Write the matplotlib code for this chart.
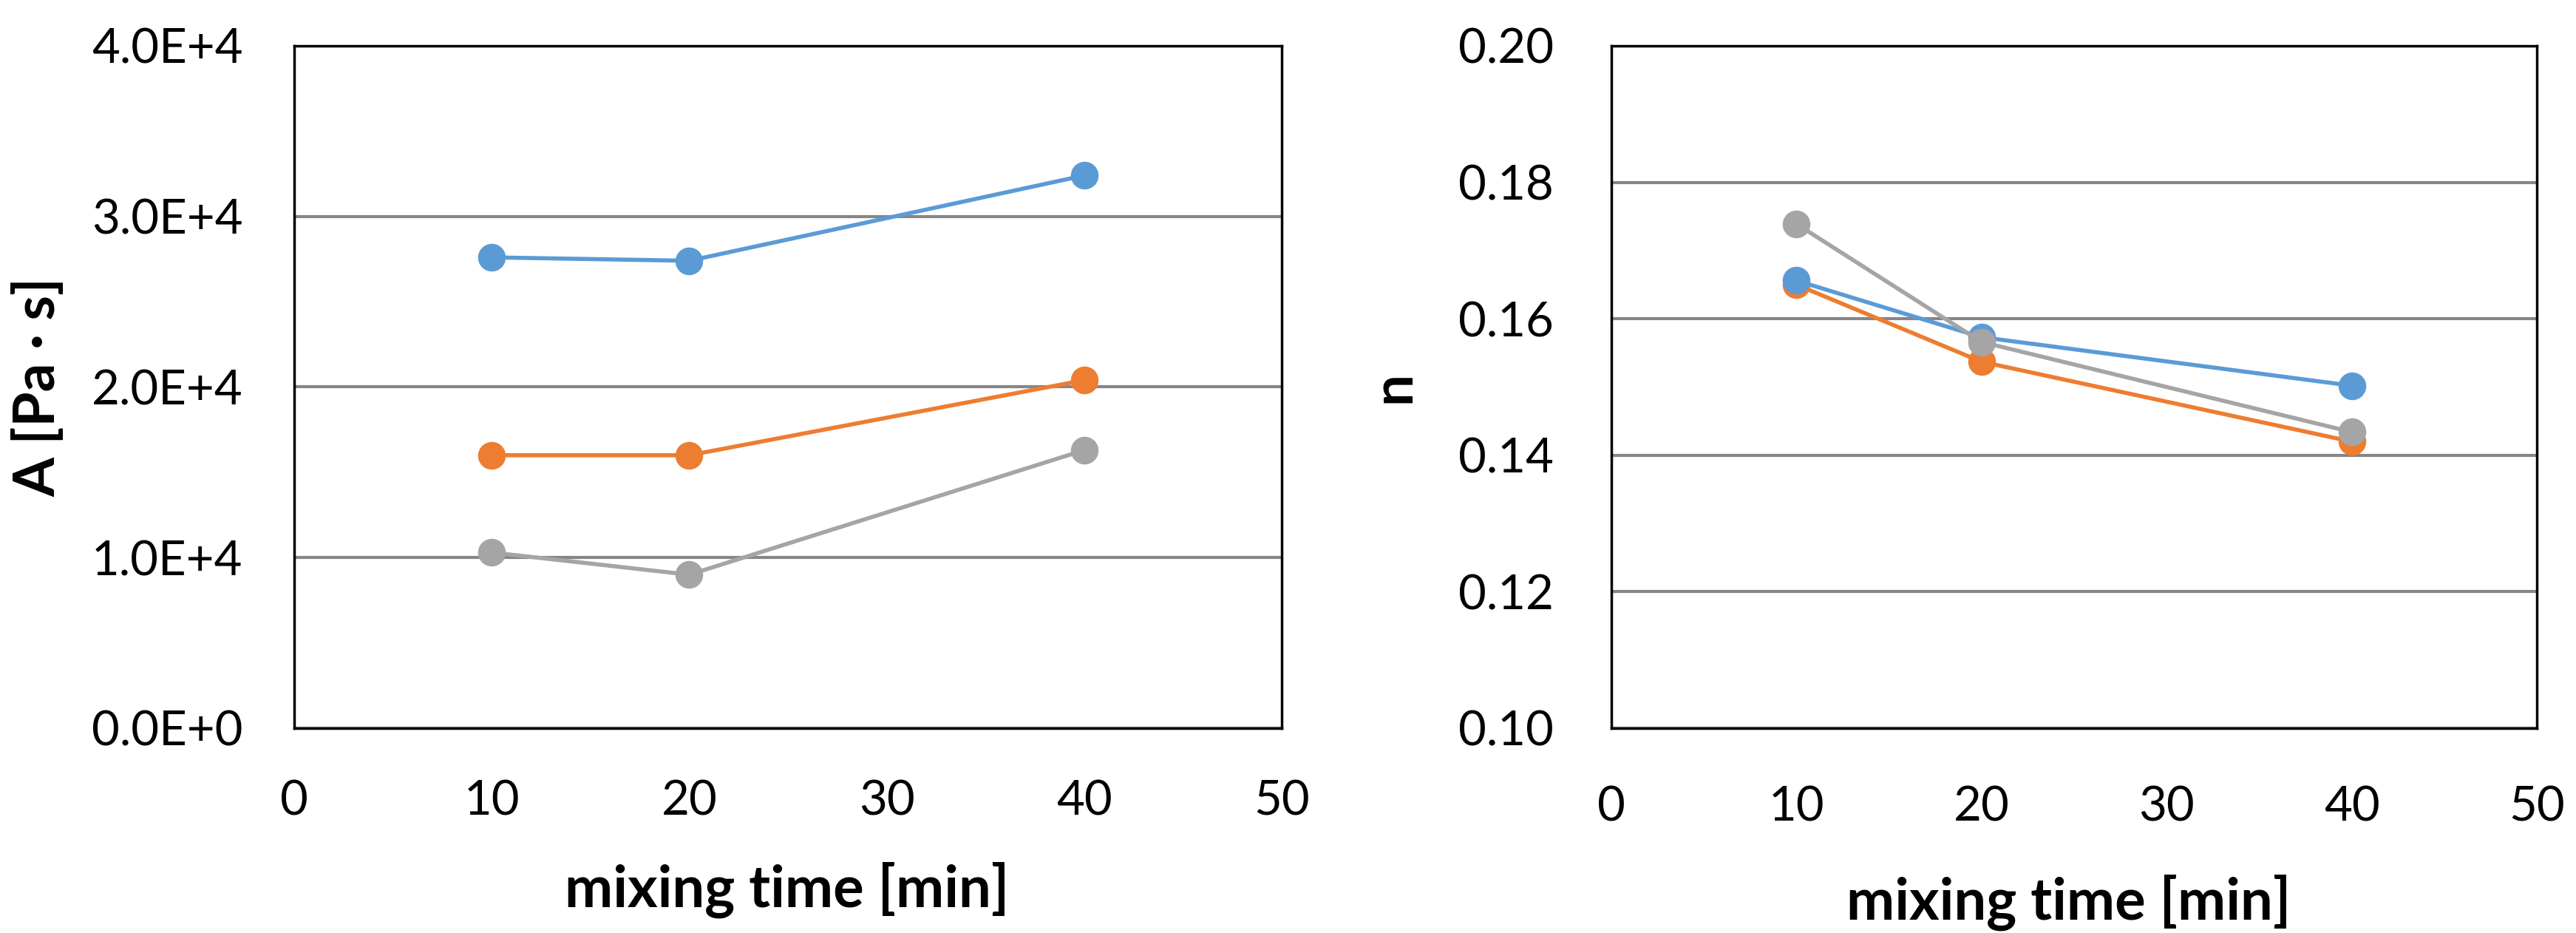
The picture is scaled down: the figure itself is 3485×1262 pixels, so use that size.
"""Power-law parameters A and n versus mixing time."""
import matplotlib
matplotlib.use("Agg")
import matplotlib.pyplot as plt

plt.rcParams['font.family'] = ['Lato', 'DejaVu Sans']

mixing_time = [10, 20, 40]

# consistency index A [Pa s]
A_blue = [27600, 27400, 32400]
A_orange = [16000, 16000, 20400]
A_gray = [10300, 9000, 16300]

# flow index n
n_blue = [0.1656, 0.1573, 0.1502]
n_orange = [0.1650, 0.1537, 0.1420]
n_gray = [0.1739, 0.1566, 0.1434]

x_ticks = [0, 10, 20, 30, 40, 50]
A_ticks = [0, 10000, 20000, 30000, 40000]
A_ticklabels = ["0.0E+0", "1.0E+4", "2.0E+4", "3.0E+4", "4.0E+4"]
n_ticks = [0.10, 0.12, 0.14, 0.16, 0.18, 0.20]
n_ticklabels = ["0.10", "0.12", "0.14", "0.16", "0.18", "0.20"]

BLUE = "#5B9BD5"
ORANGE = "#ED7D31"
GRAY = "#A5A5A5"

fig = plt.figure(figsize=(34.85, 12.62), dpi=100)
ax1 = fig.add_axes([0.1142, 0.2195, 0.3834, 0.7314])
ax2 = fig.add_axes([0.6255, 0.2195, 0.3593, 0.7314])


def style(ax, yticks, ylabels, pad):
    ax.set_xlim(0, 50)
    ax.set_xticks(x_ticks)
    ax.set_yticks(yticks)
    ax.set_yticklabels(ylabels)
    ax.set_ylim(yticks[0], yticks[-1])
    ax.tick_params(length=0, labelsize=47, pad=pad)
    ax.grid(axis='y', color='#868686', linewidth=3)
    ax.set_axisbelow(True)
    for s in ax.spines.values():
        s.set_linewidth(2.5)
        s.set_color('black')


def plot_series(ax, ys, color, z):
    ax.plot(mixing_time, ys, color=color, linewidth=4, marker='o',
            markersize=26, zorder=z)


style(ax1, A_ticks, A_ticklabels, 50)
plot_series(ax1, A_blue, BLUE, 3)
plot_series(ax1, A_orange, ORANGE, 3)
plot_series(ax1, A_gray, GRAY, 3)
ax1.text(-0.259, 0.5, "A [Pa · s]", transform=ax1.transAxes, rotation=90,
         ha='center', va='center', fontsize=55, fontweight='bold')
ax1.set_xlabel("mixing time [min]", fontsize=56, fontweight='bold')
ax1.xaxis.set_label_coords(0.499, -0.196)

style(ax2, n_ticks, n_ticklabels, 56)
plot_series(ax2, n_orange, ORANGE, 2)
plot_series(ax2, n_blue, BLUE, 3)
plot_series(ax2, n_gray, GRAY, 4)
ax2.text(-0.235, 0.5, "n", transform=ax2.transAxes, rotation=90,
         ha='center', va='center', fontsize=55, fontweight='bold')
ax2.set_xlabel("mixing time [min]", fontsize=56, fontweight='bold')
ax2.xaxis.set_label_coords(0.494, -0.214)

fig.savefig("out.png", dpi=100)
